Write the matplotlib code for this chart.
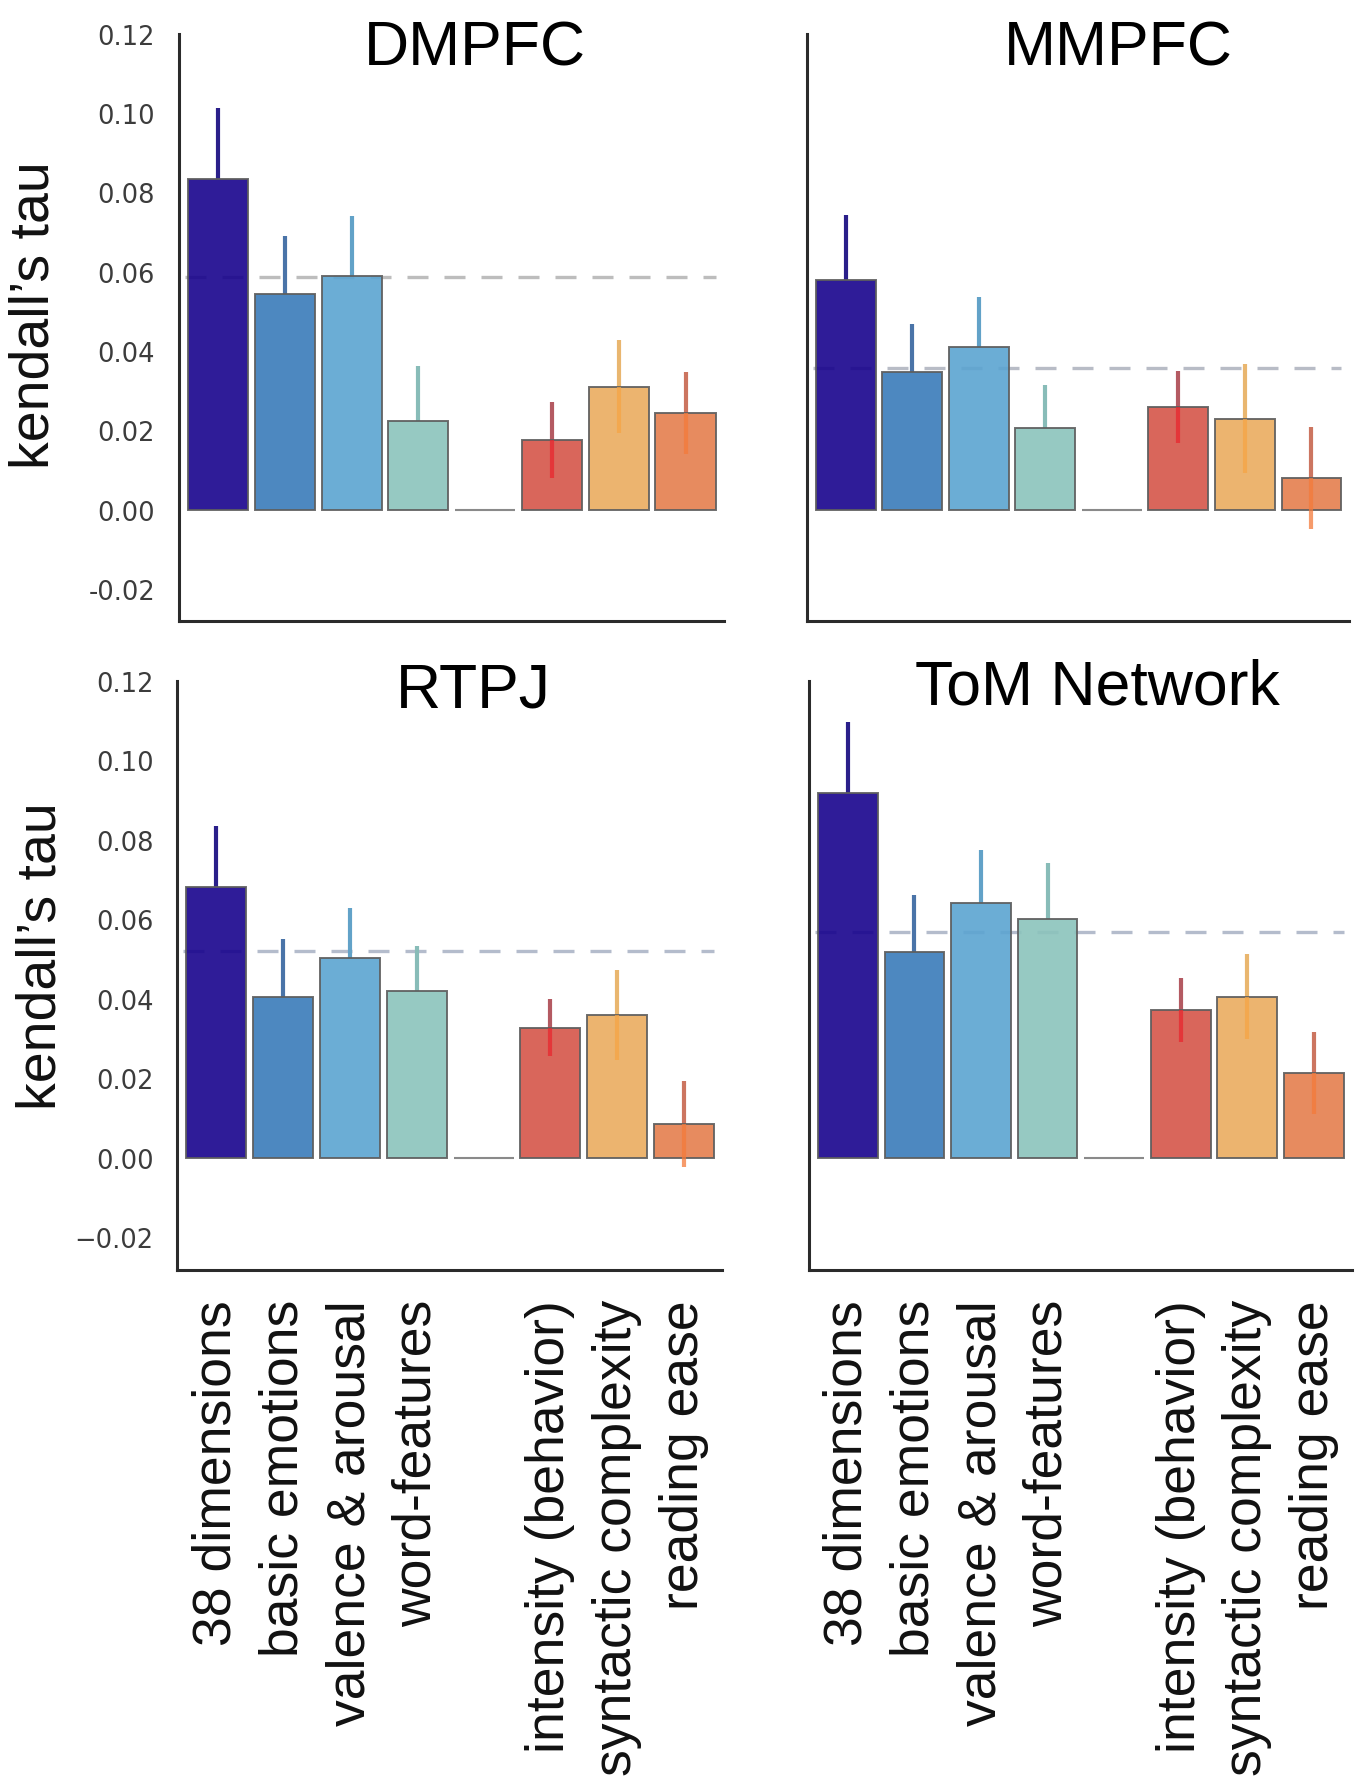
import numpy as np
import matplotlib.pyplot as plt

# feature sets (slot 4 is an empty spacer between the two groups)
categories = ['38 dimensions', 'basic emotions', 'valence & arousal', 'word-features',
              '', 'intensity (behavior)', 'syntactic complexity', 'reading ease']

regions = ['DMPFC', 'MMPFC', 'RTPJ', 'ToM Network']

dmpfc_tau = [0.0833, 0.0544, 0.0590, 0.0223, 0.0, 0.0176, 0.0310, 0.0243]
dmpfc_err = [0.0180, 0.0145, 0.0151, 0.0139, 0.0, 0.0096, 0.0118, 0.0103]
mmpfc_tau = [0.0580, 0.0347, 0.0411, 0.0206, 0.0, 0.0259, 0.0229, 0.0080]
mmpfc_err = [0.0162, 0.0120, 0.0124, 0.0108, 0.0, 0.0090, 0.0138, 0.0128]
rtpj_tau = [0.0681, 0.0405, 0.0502, 0.0420, 0.0, 0.0328, 0.0360, 0.0086]
rtpj_err = [0.0153, 0.0145, 0.0126, 0.0112, 0.0, 0.0072, 0.0113, 0.0108]
tom_tau = [0.0919, 0.0519, 0.0642, 0.0601, 0.0, 0.0372, 0.0405, 0.0214]
tom_err = [0.0178, 0.0142, 0.0132, 0.0142, 0.0, 0.0081, 0.0107, 0.0103]

# dashed reference line per region
ceiling = [0.0587, 0.0357, 0.0521, 0.0568]

yticks = [-0.02, 0.0, 0.02, 0.04, 0.06, 0.08, 0.10, 0.12]

# colours
bar_colors = ['#18038d', '#3a7bb9', '#5ba4d1', '#8bc3bc', '#ffffff',
              '#d55549', '#eaac5f', '#e57e4d']
err_colors = ['#2a1f8a', '#4a74a8', '#62a2c8', '#88bcb8', '#888888',
              '#b45a62', '#e9b66f', '#cc7560']
inner_colors = [None, None, None, None, None, '#e8262e', '#f6a545', '#f47a3a']
ceil_colors = ['#bdbdbd', '#b8bcc6', '#b4bccc', '#b4bccc']

tau_all = [dmpfc_tau, mmpfc_tau, rtpj_tau, tom_tau]
err_all = [dmpfc_err, mmpfc_err, rtpj_err, tom_err]

# layout
rects = [[0.131, 0.651, 0.3995, 0.3294],
         [0.5913, 0.651, 0.398, 0.3294],
         [0.1298, 0.2872, 0.3995, 0.3303],
         [0.5929, 0.2872, 0.398, 0.3303]]
title_pos = [(0.543, 0.948), (0.575, 0.948), (0.544, 0.957), (0.532, 0.961)]
ylabel_pos = [(-0.264, 0.523), None, (-0.248, 0.535), None]

sans = 'Liberation Sans'

fig = plt.figure(figsize=(13.64, 17.83), dpi=100)

for k in range(4):
    ax = fig.add_axes(rects[k])
    tau = np.array(tau_all[k])
    err = np.array(err_all[k])
    x = np.arange(len(tau))

    ax.hlines(ceiling[k], -0.5, 7.45, colors=ceil_colors[k], linewidth=2.4,
              linestyles=(0, (6.3, 4.8)), zorder=1)

    for i in range(len(tau)):
        if i == 4:
            ax.bar(x[i], 0, width=0.9, color='none', edgecolor='#8a8a8a',
                   linewidth=1.5, zorder=2)
            continue
        ax.bar(x[i], tau[i], width=0.9, color=bar_colors[i], alpha=0.9,
               edgecolor='#5e5e5e', linewidth=1.4, zorder=2)
        # upper part of the error bar
        ax.vlines(x[i], tau[i], tau[i] + err[i], colors=err_colors[i],
                  linewidth=3.0, zorder=1.5)
        # lower part shows through the warm bars
        if inner_colors[i] is not None:
            ax.vlines(x[i], tau[i] - err[i], tau[i], colors=inner_colors[i],
                      linewidth=3.0, alpha=0.75, zorder=3)

    ax.set_xlim(-0.59, 7.57)
    ax.set_ylim(-0.0282, 0.12)

    for s in ['top', 'right']:
        ax.spines[s].set_visible(False)
    for s in ['left', 'bottom']:
        ax.spines[s].set_linewidth(2.2)
        ax.spines[s].set_color('#2b2b2b')

    ax.tick_params(length=0)
    if k % 2 == 0:
        ax.set_yticks(yticks)
        first = '-0.02' if k == 0 else '\u22120.02'
        ax.set_yticklabels([first] + ['%.2f' % v for v in yticks[1:]],
                           fontsize=18.5, color='#3c3c3c', family='DejaVu Sans')
        ax.tick_params(axis='y', pad=17)
        ax.text(ylabel_pos[k][0], ylabel_pos[k][1], 'kendall\u2019s tau',
                transform=ax.transAxes, rotation=90, ha='center', va='center',
                fontsize=40, family=sans, color='#111111')
    else:
        ax.set_yticks([])

    if k >= 2:
        ax.set_xticks(x)
        ax.set_xticklabels(categories, rotation=90, fontsize=38.5, family=sans,
                           color='#111111')
        ax.tick_params(axis='x', pad=21)
    else:
        ax.set_xticks([])

    ax.text(title_pos[k][0], title_pos[k][1], regions[k], transform=ax.transAxes,
            ha='center', va='baseline', fontsize=45, family=sans, color='black')

fig.savefig('out.png', dpi=100, facecolor='white')
